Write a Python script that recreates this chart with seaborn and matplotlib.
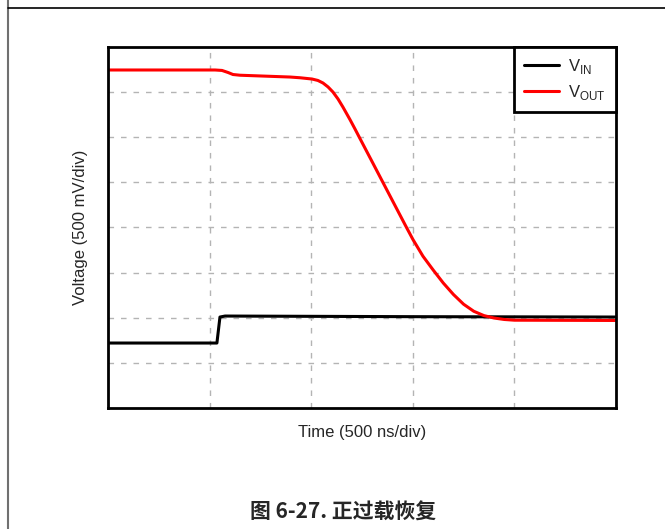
import numpy as np
import pandas as pd
import seaborn as sns
import matplotlib.pyplot as plt
from matplotlib.lines import Line2D

# time in ns, voltage in mV (relative, 500 ns/div and 500 mV/div)
vin_t = [0, 536, 551, 576, 1500, 2500]
vin_v = [720, 720, 1008, 1019, 1012, 1008]

vout_t = [0, 527, 561, 591, 615, 650, 748, 896, 945, 1004, 1033, 1058, 1083,
          1107, 1132, 1156, 1191, 1215, 1240, 1270, 1304, 1339, 1368, 1388,
          1437, 1471, 1501, 1550, 1600, 1650, 1700, 1750, 1800, 1850, 1900,
          1950, 2000, 2500]
vout_v = [3745, 3745, 3740, 3717, 3695, 3687, 3679, 3667, 3659, 3645, 3629,
          3601, 3557, 3501, 3424, 3335, 3195, 3094, 2986, 2857, 2711, 2560,
          2435, 2349, 2138, 1992, 1866, 1682, 1530, 1385, 1258, 1150, 1072,
          1024, 997, 981, 973, 970]

labels = [r'V$_{\mathregular{IN}}$', r'V$_{\mathregular{OUT}}$']
colors = ['black', 'red']

sns.set_style('white')
plt.rcParams['font.family'] = ['Liberation Sans', 'DejaVu Sans']

fig = plt.figure(figsize=(6.65, 5.29), dpi=100)
ax = fig.add_axes([0.1624, 0.2287, 0.7639, 0.6825])

sns.lineplot(x=vin_t, y=vin_v, ax=ax, color=colors[0], linewidth=2.2, label=labels[0])
sns.lineplot(x=vout_t, y=vout_v, ax=ax, color=colors[1], linewidth=2.2, label=labels[1])

ax.set_xlim(0, 2500)
ax.set_ylim(0, 4000)
ax.set_xticks(np.arange(0, 2501, 500))
ax.set_yticks(np.arange(0, 4001, 500))
ax.set_xticklabels([])
ax.set_yticklabels([])
ax.tick_params(length=0)
ax.grid(True, color='#b4b4b4', linestyle=(0, (4, 5)), linewidth=1)
ax.set_axisbelow(True)
for s in ax.spines.values():
    s.set_color('black')
    s.set_linewidth(2)

ax.set_xlabel('Time (500 ns/div)', fontsize=12, labelpad=9)
ax.set_ylabel('Voltage (500 mV/div)', fontsize=12, labelpad=11)

leg = ax.legend(loc='upper right', fontsize=12, frameon=True, fancybox=False,
                framealpha=1, borderaxespad=0, handlelength=2.1,
                labelspacing=0.4, borderpad=0.6, handletextpad=0.55)
leg.get_frame().set_edgecolor('black')
leg.get_frame().set_linewidth(2)

fig.text(0.516, 0.032, '图 6-27. 正过载恢复', ha='center', va='center',
         fontsize=15, fontweight='bold',
         family=['Noto Sans CJK SC', 'DejaVu Sans'])

# page border lines
fig.add_artist(Line2D([0.012, 0.012], [0, 1], color='#707070', linewidth=1.5))
fig.add_artist(Line2D([0.012, 1], [0.985, 0.985], color='black', linewidth=1.2))

fig.savefig('out.png', dpi=100)
